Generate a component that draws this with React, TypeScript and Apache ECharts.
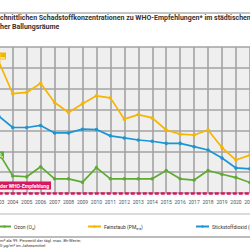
import React, { useEffect, useRef } from "react";
import * as echarts from "echarts";

const years = [
  "2003", "2004", "2005", "2006", "2007", "2008", "2009", "2010", "2011", "2012",
  "2013", "2014", "2015", "2016", "2017", "2018", "2019", "2020", "2021",
];
// Verhältnis zur WHO-Empfehlung (1 = Einhaltung)
const pm25 = [4.15, 3.38, 3.41, 3.63, 3.17, 2.93, 3.14, 3.33, 3.28, 2.77, 2.88, 2.8, 2.51, 2.41, 2.39, 2.51, 2.09, 1.79, 1.91];
const no2 = [2.84, 2.57, 2.57, 2.62, 2.44, 2.44, 2.53, 2.52, 2.37, 2.32, 2.27, 2.24, 2.19, 2.19, 2.11, 2.03, 1.84, 1.6, 1.58];
const ozone = [1.96, 1.41, 1.39, 1.63, 1.34, 1.34, 1.26, 1.61, 1.34, 1.34, 1.34, 1.34, 1.54, 1.34, 1.31, 1.54, 1.45, 1.37, 1.25];
const whoLevel = 1;

const seriesNames = ["Ozon (O₃)", "Feinstaub (PM₂,₅)", "Stickstoffdioxid (NO₂)"];
const titleLines = [
  "chnittlichen Schadstoffkonzentrationen zu WHO-Empfehlungen* im städtischen",
  "her Ballungsräume",
];
const footnotes = ["m³ als 99. Perzentil der tägl. max. 8h-Werte;", "0 µg/m³ im Jahresmittel"];
const whoLabel = "Einhaltung der WHO-Empfehlung";

const OFF = 20;
const C_ORANGE = "#f6b500";
const C_BLUE = "#1b96d4";
const C_GREEN = "#5fab32";
const C_PINK = "#d6195f";

export default function App() {
  const ref = useRef<HTMLDivElement>(null);
  useEffect(() => {
    const chart = echarts.init(ref.current!, null, { renderer: "svg" });
    const font = "Roboto, 'Noto Sans', sans-serif";
    const mk = (name: string, data: number[], color: string, extra: any = {}) => ({
      type: "line",
      name,
      data,
      color,
      symbol: "circle",
      symbolSize: 3.5,
      showSymbol: true,
      lineStyle: { width: 1.7, color },
      itemStyle: { color },
      ...extra,
    });
    const legend = (name: string, left: number) => ({
      data: [name],
      left,
      top: 224,
      padding: 0,
      itemWidth: 13,
      itemHeight: 3,
      itemGap: 2,
      textStyle: { fontSize: 5, color: "#333", fontFamily: font, padding: [0, 0, 0, -2] },
    });
    chart.setOption({
      animation: false,
      textStyle: { fontFamily: font },
      grid: {
        left: OFF - 1.2,
        width: 251.1,
        top: 47,
        height: 146,
        show: true,
        backgroundColor: "#efefef",
        borderWidth: 0,
      },
      xAxis: {
        type: "category",
        data: years,
        boundaryGap: false,
        axisLine: { show: false },
        axisTick: { show: false },
        axisLabel: { fontSize: 5, color: "#555", margin: 6, interval: 0 },
        splitLine: { show: true, lineStyle: { color: "#a3a3a3", width: 1.6 } },
      },
      yAxis: {
        type: "value",
        min: 1,
        max: 4.5,
        interval: 0.5,
        axisLabel: { show: false },
        axisLine: { show: false },
        axisTick: { show: false },
        splitLine: { show: true, lineStyle: { color: "#a3a3a3", width: 1.6 } },
      },
      legend: [
        legend(seriesNames[0], OFF - 3),
        legend(seriesNames[1], OFF + 87),
        legend(seriesNames[2], OFF + 195),
      ],
      series: [
        mk(seriesNames[0], ozone, C_GREEN, {
          markLine: {
            silent: true,
            symbol: ["none", "none"],
            label: { show: false },
            lineStyle: { color: C_PINK, type: [4, 2], width: 2.5 },
            data: [{ yAxis: whoLevel }],
          },
        }),
        mk(seriesNames[1], pm25, C_ORANGE),
        mk(seriesNames[2], no2, C_BLUE),
      ],
      graphic: [
        { type: "line", shape: { x1: 0, y1: 13, x2: 290, y2: 13 }, style: { stroke: "#8a8a8a", lineWidth: 1 } },
        {
          type: "text", x: OFF, y: 14.5,
          style: { text: titleLines[0], fontSize: 7, fontWeight: "bold", fill: "#333", fontFamily: font },
        },
        {
          type: "text", x: OFF, y: 23,
          style: { text: titleLines[1], fontSize: 7, fontWeight: "bold", fill: "#333", fontFamily: font },
        },
        {
          type: "text", x: OFF + 6, y: 52.5, z: 100,
          style: {
            text: "PM₂,₅", align: "right", fontSize: 4.5, fontWeight: "bold", fill: "#fff",
            backgroundColor: C_ORANGE, padding: [1, 1, 1, 1], fontFamily: font,
          },
        },
        {
          type: "text", x: OFF + 4, y: 151.5, z: 100,
          style: {
            text: "O₃", align: "right", fontSize: 4.5, fontWeight: "bold", fill: "#fff",
            backgroundColor: C_GREEN, padding: [1, 1, 1, 1], fontFamily: font,
          },
        },
        {
          type: "text", x: OFF + 51, y: 181.5, z: 100,
          style: {
            text: whoLabel, align: "right", fontSize: 5, fontWeight: "bold", fill: "#fff",
            backgroundColor: C_PINK, padding: [1.5, 2, 1.5, 2], fontFamily: font,
          },
        },
        { type: "line", shape: { x1: 0, y1: 214, x2: 290, y2: 214 }, style: { stroke: "#cfcfcf", lineWidth: 1.5 } },
        { type: "line", shape: { x1: 0, y1: 237, x2: 290, y2: 237 }, style: { stroke: "#7a7a7a", lineWidth: 1.2 } },
        {
          type: "text", x: OFF, y: 238.5,
          style: { text: footnotes[0], fontSize: 4.2, fill: "#333", fontFamily: font },
        },
        {
          type: "text", x: OFF, y: 243,
          style: { text: footnotes[1], fontSize: 4.2, fill: "#333", fontFamily: font },
        },
      ],
    });
    return () => chart.dispose();
  }, []);
  return (
    <div style={{ position: "fixed", left: 0, top: 0, width: 250, height: 250, overflow: "hidden", background: "#fff" }}>
      <div ref={ref} style={{ position: "absolute", left: -OFF, top: 0, width: 290, height: 250 }} />
    </div>
  );
}
